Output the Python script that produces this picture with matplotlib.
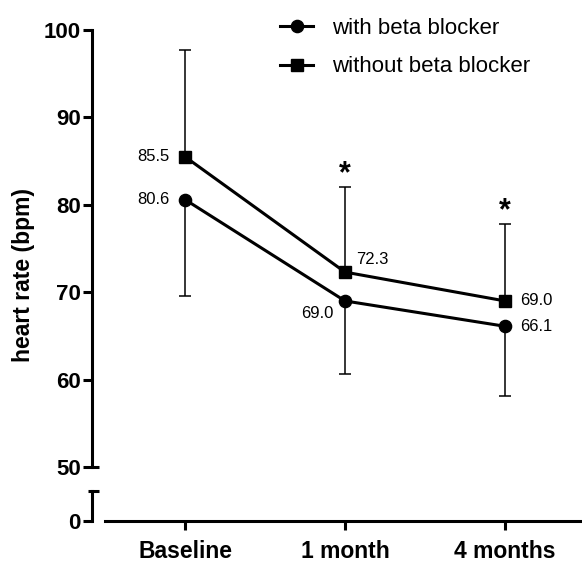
import matplotlib
matplotlib.use("Agg")
import matplotlib.pyplot as plt
from matplotlib.lines import Line2D

plt.rcParams['font.family'] = ['Liberation Sans', 'DejaVu Sans']

categories = ["Baseline", "1 month", "4 months"]
with_bb = [80.6, 69.0, 66.1]
with_bb_err_down = [11.0, 8.4, 8.0]
without_bb = [85.5, 72.3, 69.0]
without_bb_err_up = [12.2, 9.7, 8.8]
significant = [False, True, True]
with_labels = ["80.6", "69.0", "66.1"]
without_labels = ["85.5", "72.3", "69.0"]

W, H = 582, 564
fig = plt.figure(figsize=(W / 100, H / 100), dpi=100)

x = list(range(len(categories)))
xlim = ((92 - 185) / 160, (582 - 185) / 160)

ax = fig.add_axes([92 / W, (H - 467) / H, 490 / W, (467 - 30) / H])
axb = fig.add_axes([92 / W, (H - 521) / H, 490 / W, (521 - 491) / H])

lw_sp = 2.2
for a in (ax, axb):
    a.set_xlim(*xlim)
    a.patch.set_alpha(0)
    for s in ("top", "right"):
        a.spines[s].set_visible(False)
    a.spines["left"].set_linewidth(lw_sp)
    a.spines["bottom"].set_linewidth(lw_sp)
    a.tick_params(axis="y", length=6.5, width=lw_sp, pad=1.5, labelsize=16)

ax.spines["bottom"].set_visible(False)
ax.set_ylim(50, 100)
ax.set_yticks([50, 60, 70, 80, 90, 100])
ax.set_yticklabels(["50", "60", "70", "80", "90", "100"], fontweight="bold")
ax.set_xticks([])
ax.spines["left"].set_bounds(50, 100)
# cap at the break
ax.plot([0, 7 / 490], [50, 50], transform=ax.get_yaxis_transform(), color="black",
        lw=lw_sp, clip_on=False, solid_capstyle="butt")

axb.set_ylim(0, 1)
axb.set_yticks([0])
axb.set_yticklabels(["0"], fontweight="bold")
axb.spines["bottom"].set_bounds((105 - 185) / 160, xlim[1])
axb.set_xticks(x)
axb.set_xticklabels(categories, fontweight="bold", fontsize=16.5)
axb.tick_params(axis="x", length=6.5, width=lw_sp, pad=7.5)
axb.plot([-4 / 490, 7 / 490], [1, 1], transform=axb.get_yaxis_transform(), color="black",
         lw=lw_sp, clip_on=False, solid_capstyle="butt")

# error bars (one-sided)
up_top = [v + e for v, e in zip(without_bb, without_bb_err_up)]
down_bot = [v - e for v, e in zip(with_bb, with_bb_err_down)]
ax.vlines(x, without_bb, up_top, color="black", lw=1.1, zorder=2)
ax.plot(x, up_top, ls="none", marker="_", ms=12 * 0.72, mew=1.1, color="black", zorder=2)
ax.vlines(x, down_bot, with_bb, color="black", lw=1.1, zorder=2)
ax.plot(x, down_bot, ls="none", marker="_", ms=12 * 0.72, mew=1.1, color="black", zorder=2)

ax.plot(x, with_bb, color="black", lw=2.2, marker="o", ms=8.8, zorder=3, clip_on=False)
ax.plot(x, without_bb, color="black", lw=2.2, marker="s", ms=8.3, zorder=3, clip_on=False)

# data labels
fs_lab = 12
p = 0.72
lab_off_w = [(-15, 0, "right"), (-12, -13, "right"), (15, 0, "left")]
lab_off_wo = [(-15, 0, "right"), (11, 13, "left"), (15, 0, "left")]
for i in x:
    dx, dy, ha = lab_off_w[i]
    ax.annotate(with_labels[i], (x[i], with_bb[i]), xytext=(dx * p, dy * p),
                textcoords="offset points", ha=ha, va="center", fontsize=fs_lab)
    dx, dy, ha = lab_off_wo[i]
    ax.annotate(without_labels[i], (x[i], without_bb[i]), xytext=(dx * p, dy * p),
                textcoords="offset points", ha=ha, va="center", fontsize=fs_lab)

for i in x:
    if significant[i]:
        ax.annotate("*", (x[i], up_top[i]), xytext=(0, -2 * p), textcoords="offset points",
                    ha="center", va="bottom", fontsize=22, fontweight="bold")

fig.text(24 / W, (H - 275) / H, "heart rate (bpm)", rotation=90, ha="center", va="center",
         fontsize=16.5, fontweight="bold")

handles = [Line2D([], [], color="black", lw=2.2, marker="o", ms=8.8),
           Line2D([], [], color="black", lw=2.2, marker="s", ms=8.3)]
fig.legend(handles, ["with beta blocker", "without beta blocker"], loc="upper left",
           bbox_to_anchor=(280 / W, (H - 18) / H), frameon=False, fontsize=16,
           borderpad=0, borderaxespad=0, handlelength=1.5, handletextpad=0.85,
           labelspacing=0.78)

fig.savefig("out.png", dpi=100)
